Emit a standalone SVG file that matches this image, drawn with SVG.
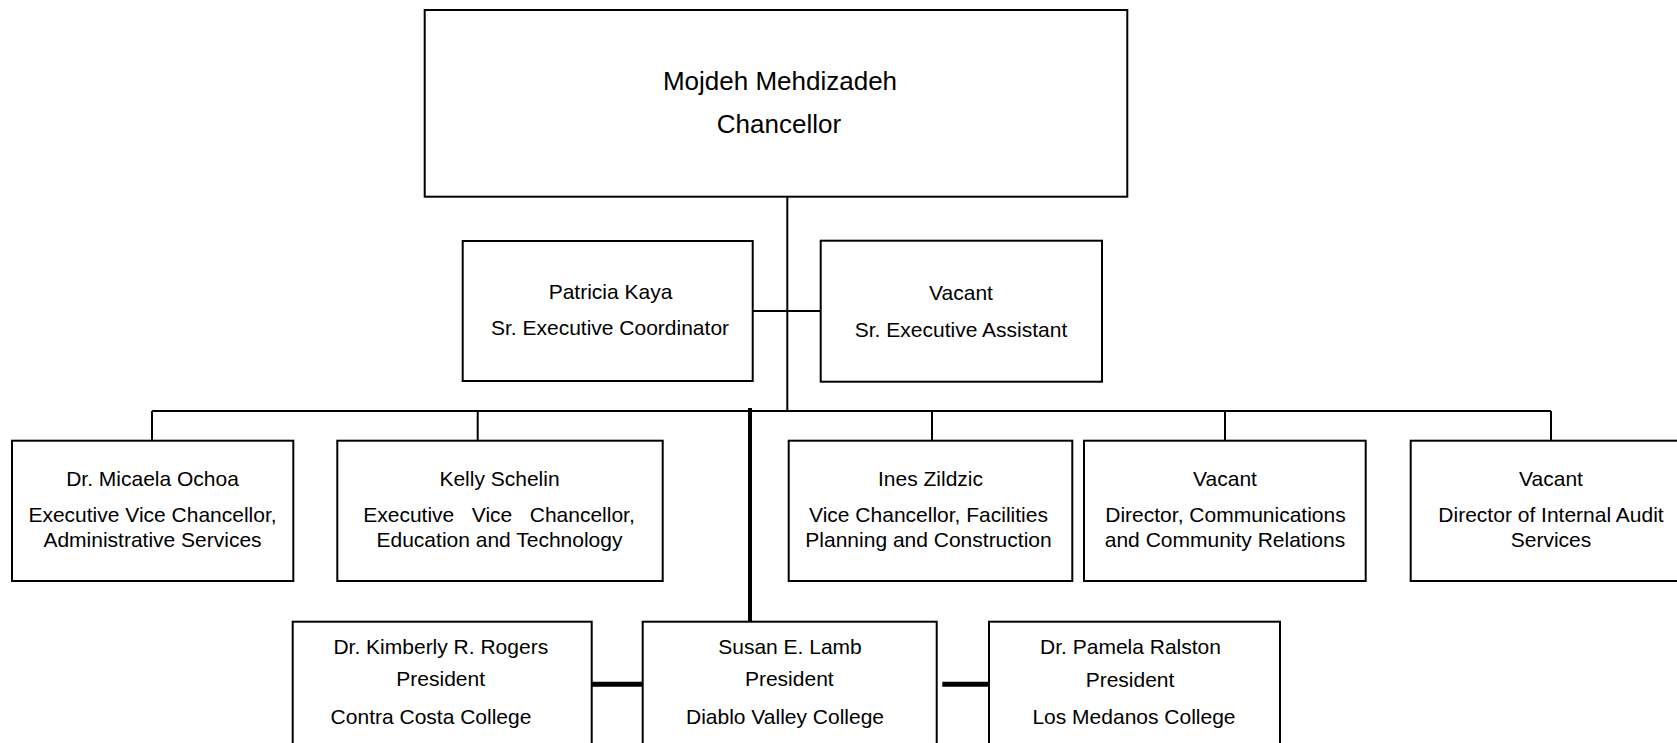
<svg xmlns="http://www.w3.org/2000/svg" width="1677" height="743" viewBox="0 0 1677 743">
<style>
.box{fill:#fff;stroke:#000;stroke-width:2}
.t{font-family:"Liberation Sans",Arial,sans-serif;font-size:21px;fill:#000;text-anchor:middle}
.big{font-size:26px}
.c{fill:none;stroke:#000;stroke-width:2}
.thick{fill:none;stroke:#000;stroke-width:4}
.thicker{fill:none;stroke:#000;stroke-width:5}
</style>
<rect width="1677" height="743" fill="#fff"/>
<g id="connectors">
<path class="c" d="M787.3 197V411"/>
<path class="c" d="M152 411H1551"/>
<path class="c" d="M152 411V440.7M477.7 411V440.7M932 411V440.7M1225 411V440.7M1551 411V440.7"/>
<path class="c" d="M753 311H820.7"/>
<path class="thick" d="M750 408V621.7"/>
<path class="thicker" d="M591.7 684.3H642.7M942.3 684.3H989"/>
</g>
<g id="chancellor">
<rect class="box" x="424.7" y="10" width="702.6" height="186.7"/>
<text class="t big" x="780" y="90">Mojdeh Mehdizadeh</text>
<text class="t big" x="779" y="133">Chancellor</text>
</g>
<g id="patricia">
<rect class="box" x="462.7" y="241" width="290" height="140"/>
<text class="t" x="610.5" y="299">Patricia Kaya</text>
<text class="t" x="610" y="335.3">Sr. Executive Coordinator</text>
</g>
<g id="vacant-assistant">
<rect class="box" x="820.7" y="240.7" width="281.3" height="141"/>
<text class="t" x="961" y="300">Vacant</text>
<text class="t" x="961" y="336.7">Sr. Executive Assistant</text>
</g>
<g id="ochoa">
<rect class="box" x="12" y="440.7" width="281.3" height="140.3"/>
<text class="t" x="152.5" y="486">Dr. Micaela Ochoa</text>
<text class="t" x="152.5" y="521.7">Executive Vice Chancellor,</text>
<text class="t" x="152.5" y="546.7">Administrative Services</text>
</g>
<g id="schelin">
<rect class="box" x="337.3" y="440.7" width="325.4" height="140.3"/>
<text class="t" x="499.5" y="486">Kelly Schelin</text>
<text class="t" x="499" y="521.7" xml:space="preserve">Executive   Vice   Chancellor,</text>
<text class="t" x="499.5" y="546.7">Education and Technology</text>
</g>
<g id="zildzic">
<rect class="box" x="788.7" y="440.7" width="283.6" height="140.3"/>
<text class="t" x="930.5" y="486">Ines Zildzic</text>
<text class="t" x="928.5" y="521.7">Vice Chancellor, Facilities</text>
<text class="t" x="928.5" y="546.7">Planning and Construction</text>
</g>
<g id="vacant-communications">
<rect class="box" x="1084" y="440.7" width="281.7" height="140.3"/>
<text class="t" x="1225" y="486">Vacant</text>
<text class="t" x="1225.5" y="521.7">Director, Communications</text>
<text class="t" x="1225" y="546.7">and Community Relations</text>
</g>
<g id="vacant-audit">
<rect class="box" x="1410.7" y="440.7" width="281" height="140.3"/>
<text class="t" x="1551" y="486">Vacant</text>
<text class="t" x="1551" y="521.7">Director of Internal Audit</text>
<text class="t" x="1551" y="547">Services</text>
</g>
<g id="rogers">
<rect class="box" x="292.7" y="621.7" width="299" height="140"/>
<text class="t" x="440.8" y="654">Dr. Kimberly R. Rogers</text>
<text class="t" x="440.7" y="685.5">President</text>
<text class="t" x="431" y="724">Contra Costa College</text>
</g>
<g id="lamb">
<rect class="box" x="642.7" y="621.7" width="294" height="140"/>
<text class="t" x="790" y="654">Susan E. Lamb</text>
<text class="t" x="789.3" y="686">President</text>
<text class="t" x="785" y="724">Diablo Valley College</text>
</g>
<g id="ralston">
<rect class="box" x="989" y="621.7" width="291" height="140"/>
<text class="t" x="1130.5" y="653.5">Dr. Pamela Ralston</text>
<text class="t" x="1130" y="686.5">President</text>
<text class="t" x="1134" y="723.5">Los Medanos College</text>
</g>
</svg>
